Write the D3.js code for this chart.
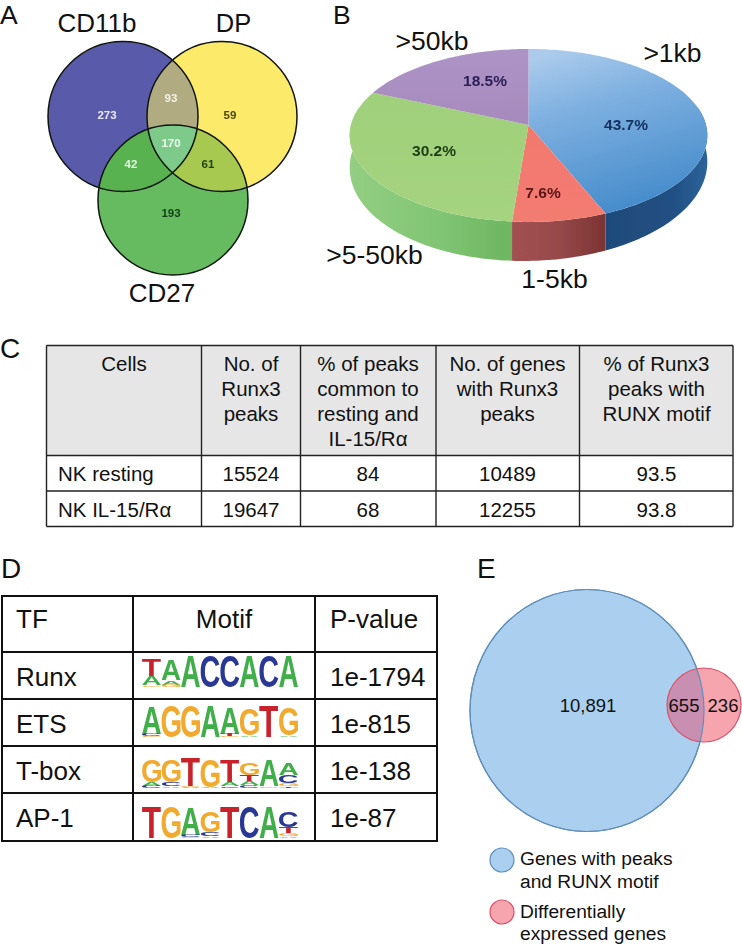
<!DOCTYPE html>
<html><head><meta charset="utf-8">
<script src="https://cdn.jsdelivr.net/npm/d3@7/dist/d3.min.js"></script>
<style>html,body{margin:0;background:#fff}svg{display:block}text{font-family:"Liberation Sans",Arial,sans-serif}</style>
</head><body><svg id="c" width="742" height="945"></svg>
<script>
// ---------- data ----------
const panelLetters = ["A","B","C","D","E"];
const vennSets = ["CD11b","DP","CD27"];
const vennRegionNames = ["CD11b only","CD11b+DP","DP only","all","CD11b+CD27","DP+CD27","CD27 only"];
const vennRegionValues = [273,93,59,170,42,61,193];
const pieLabels = [">1kb","1-5kb",">5-50kb",">50kb"];
const pieValues = [43.7,7.6,30.2,18.5];
const tableCHeader = [["Cells"],["No. of","Runx3","peaks"],["% of peaks","common to","resting and","IL-15/Rα"],["No. of genes","with Runx3","peaks"],["% of Runx3","peaks with","RUNX motif"]];
const tableCRow1 = ["NK resting","15524","84","10489","93.5"];
const tableCRow2 = ["NK IL-15/Rα","19647","68","12255","93.8"];
const tableDHeader = ["TF","Motif","P-value"];
const tfNames = ["Runx","ETS","T-box","AP-1"];
const pValues = ["1e-1794","1e-815","1e-138","1e-87"];
const logoRunx = [[["T",.56],["A",.3],["G",.05]],[["A",.68],["A",.14],["G",.08]],[["A",1]],[["C",1]],[["C",1]],[["A",1]],[["C",1]],[["A",1]]];
const logoEts = [[["A",.86],["C",.06],["G",.03]],[["G",1]],[["G",1]],[["A",1]],[["A",.84],["T",.08],["G",.03]],[["G",.86],["A",.04]],[["T",1]],[["G",.88],["A",.04]]];
const logoTbox = [[["G",.72],["A",.1],["C",.08]],[["G",.7],["C",.12],["A",.05]],[["T",.9],["G",.03],["A",.03]],[["G",.9],["A",.03]],[["T",.72],["A",.14],["C",.05]],[["G",.36],["T",.2],["A",.12],["C",.1]],[["A",.85],["G",.05]],[["A",.38],["C",.26],["G",.1],["T",.05]]];
const logoAp1 = [[["T",1]],[["G",1]],[["A",.86],["C",.08],["G",.03]],[["G",.68],["C",.14],["A",.05]],[["T",1]],[["C",1]],[["A",1]],[["C",.52],["T",.2],["G",.1],["A",.05]]];
const logos = [logoRunx,logoEts,logoTbox,logoAp1];
const overlapLabels = ["10,891","655","236"];
const legendE = [["Genes with peaks","and RUNX motif"],["Differentially","expressed genes"]];

// ---------- layout & style ----------
const svg = d3.select("#c");
const defs = svg.append("defs");
defs.append("filter").attr("id","soft").append("feGaussianBlur").attr("stdDeviation",.45);
defs.append("filter").attr("id","soft2").append("feGaussianBlur").attr("stdDeviation",.3);

function txt(g,s,x,y,size,o={}){
  return g.append("text").attr("x",x).attr("y",y).attr("font-size",size)
    .attr("text-anchor",o.anchor||"start").attr("font-weight",o.weight||"normal")
    .attr("fill",o.fill||"#111").text(s);
}
const letterPos = [[0,24,26.5],[333,24,26.5],[0,358,28],[1,578,28],[477,578,28]];
panelLetters.forEach((l,i)=>txt(svg,l,letterPos[i][0],letterPos[i][1],letterPos[i][2]));

// ---------- A: three-set Venn ----------
const gA = svg.append("g");
const gAm = gA.append("g").attr("filter","url(#soft)");
const circles = [{cx:123,cy:116.5,r:75,fill:"#5a5aab"},{cx:222,cy:116.5,r:75,fill:"#fcea6b"},{cx:173,cy:200,r:75,fill:"#66ba5e"}];
circles.forEach((c,i)=>{
  defs.append("clipPath").attr("id","vc"+i).append("circle").attr("cx",c.cx).attr("cy",c.cy).attr("r",c.r);
  defs.append("clipPath").attr("id","vcc"+i).attr("clip-path",`url(#vc${(i+1)%3})`).append("circle").attr("cx",c.cx).attr("cy",c.cy).attr("r",c.r);
});
gAm.selectAll("circle.base").data(circles).join("circle").attr("class","base")
  .attr("cx",d=>d.cx).attr("cy",d=>d.cy).attr("r",d=>d.r).attr("fill",d=>d.fill);
const c0=circles[0],c1=circles[1],c2=circles[2];
function over(clip,c,fill){gAm.append("g").attr("clip-path",`url(#${clip})`).append("circle").attr("cx",c.cx).attr("cy",c.cy).attr("r",c.r).attr("fill",fill);}
over("vc1",c0,"#b1ab82");
over("vc0",c2,"#58b24f");
over("vc1",c2,"#a8c94f");
over("vcc0",c2,"#7dca8a");
gAm.selectAll("circle.edge").data(circles).join("circle").attr("class","edge")
  .attr("cx",d=>d.cx).attr("cy",d=>d.cy).attr("r",d=>d.r).attr("fill","none").attr("stroke","#10150f").attr("stroke-width",1.5);
const vennSetPos = [[97,32,26],[233.5,32,25.5],[162,302,26]];
vennSets.forEach((s,i)=>txt(gA,s,vennSetPos[i][0],vennSetPos[i][1],vennSetPos[i][2],{anchor:"middle"}));
const vennNumPos = [[107,119],[171,102],[230,119],[171,147],[131,168],[208,168],[171,217]];
const vennNumCol = ["#e8e8f8","#f4f2e4","#4b4510","#eefaf0","#e6f6e4","#25400f","#123f18"];
const gAn = gA.append("g").attr("filter","url(#soft2)");
vennRegionValues.forEach((v,i)=>txt(gAn,v,vennNumPos[i][0],vennNumPos[i][1],11.5,{anchor:"middle",weight:"bold",fill:vennNumCol[i]}));

// ---------- B: perspective 3-D pie ----------
const pieCx=528.5,pieCy=125,pieR=177.5,pieS=85.2,pieK=0.121;
const pieArcs = d3.pie().sort(null)(pieValues);
const topPt = t=>{const u=Math.sin(t),v=-Math.cos(t),w=1-pieK*v;return [pieCx+pieR*u/w,pieCy+pieS*v/w];};
const botPt = t=>{const u=Math.sin(t),v=-Math.cos(t),p=topPt(t);return [p[0],p[1]+28+11*v-3*u];};
const sampled=(a,b)=>{const n=Math.max(2,Math.ceil((b-a)/0.02));return d3.range(n+1).map(i=>a+(b-a)*i/n);};
const pieLine=d3.line();
function grad(id,x1,y1,x2,y2,stops){
  const g=defs.append("linearGradient").attr("id",id).attr("gradientUnits","userSpaceOnUse")
    .attr("x1",x1).attr("y1",y1).attr("x2",x2).attr("y2",y2);
  stops.forEach(s=>g.append("stop").attr("offset",s[0]).attr("stop-color",s[1]));
}
grad("pt0",560,50,610,215,[[0,"#abcbec"],[.35,"#7eb0e0"],[1,"#468ccb"]]);
grad("pt1",0,130,0,222,[[0,"#f2796e"],[1,"#f37b70"]]);
grad("pt2",0,90,0,222,[[0,"#a0d07a"],[1,"#a5d380"]]);
grad("pt3",0,50,0,125,[[0,"#ad94c6"],[1,"#a78abd"]]);
grad("ps0",606,0,705,0,[[0,"#1f4a7a"],[.7,"#225084"],[1,"#2b6298"]]);
grad("ps1",502,0,606,0,[[0,"#a55354"],[.55,"#96494a"],[1,"#7b3332"]]);
grad("ps2",350,0,502,0,[[0,"#93ce82"],[.6,"#80c573"],[1,"#6fb763"]]);
grad("ps3",340,0,380,0,[[0,"#93ce82"],[1,"#93ce82"]]);
const gB=svg.append("g");
const gBm=gB.append("g").attr("filter","url(#soft)");
const sideLo=78*Math.PI/180, sideHi=282*Math.PI/180;
gBm.selectAll("path.side").data(pieArcs).join("path").attr("class","side")
  .attr("fill",(d,i)=>`url(#ps${i})`)
  .attr("d",d=>{
    const a=Math.max(d.startAngle,sideLo),b=Math.min(d.endAngle,sideHi);
    if(b<=a) return null;
    const ts=sampled(a,b);
    return pieLine(ts.map(topPt).concat(ts.slice().reverse().map(botPt)))+"Z";
  });
gBm.selectAll("path.top").data(pieArcs).join("path").attr("class","top")
  .attr("fill",(d,i)=>`url(#pt${i})`)
  .attr("d",d=>pieLine([[pieCx,pieCy]].concat(sampled(d.startAngle,d.endAngle).map(topPt)))+"Z");
const pieLabelPos=[[672.5,62],[554.5,288],[374.5,264],[432,50]];
pieLabels.forEach((s,i)=>txt(gB,s,pieLabelPos[i][0],pieLabelPos[i][1],26.5,{anchor:"middle"}));
const piePctPos=[[626,130],[543,198],[434,156],[485,86]];
const piePctCol=["#14305f","#581517","#1e3d12","#2a1f55"];
const gBn=gB.append("g").attr("filter","url(#soft2)");
pieValues.forEach((v,i)=>txt(gBn,v.toFixed(1)+"%",piePctPos[i][0],piePctPos[i][1],15.5,{anchor:"middle",weight:"bold",fill:piePctCol[i]}));

// ---------- C: table ----------
const gC=svg.append("g");
const cX=[46.5,201.5,300.5,436,579.5,733], cY=[345.5,455.5,491,526.5];
gC.append("rect").attr("x",cX[0]).attr("y",cY[0]).attr("width",cX[5]-cX[0]).attr("height",cY[1]-cY[0]).attr("fill","#e6e6e6");
cX.forEach(x=>gC.append("line").attr("x1",x).attr("x2",x).attr("y1",cY[0]).attr("y2",cY[3]).attr("stroke","#222").attr("stroke-width",1.4));
cY.forEach(y=>gC.append("line").attr("x1",cX[0]).attr("x2",cX[5]).attr("y1",y).attr("y2",y).attr("stroke","#222").attr("stroke-width",1.4));
const cCent=[124,251,368,507.5,656.5], cHeadY=[371,395.5,420.5,445.5];
tableCHeader.forEach((lines,i)=>lines.forEach((s,j)=>txt(gC,s,cCent[i],cHeadY[j],20.5,{anchor:"middle"})));
[tableCRow1,tableCRow2].forEach((row,r)=>row.forEach((s,i)=>{
  const y=[481,517][r];
  if(i===0) txt(gC,s,58,y,20.5); else txt(gC,s,cCent[i],y,20.5,{anchor:"middle"});
}));

// ---------- D: motif table ----------
const gD=svg.append("g");
const dX=[2,133,315,437], dY=[596,652,699,746,793,841];
dX.forEach(x=>gD.append("line").attr("x1",x).attr("x2",x).attr("y1",dY[0]-1).attr("y2",dY[5]+1).attr("stroke","#111").attr("stroke-width",2));
dY.forEach(y=>gD.append("line").attr("x1",dX[0]-1).attr("x2",dX[3]+1).attr("y1",y).attr("y2",y).attr("stroke","#111").attr("stroke-width",2));
txt(gD,tableDHeader[0],16,628,26);
txt(gD,tableDHeader[1],224,628,26,{anchor:"middle"});
txt(gD,tableDHeader[2],330,628,26);
const dRowY=[686,733,780,827];
tfNames.forEach((s,i)=>{txt(gD,s,16,dRowY[i],26);txt(gD,pValues[i],330,dRowY[i],26);});
// sequence logos
const baseColor={A:"#3fae49",C:"#2a3795",G:"#f1a92e",T:"#c8202b"};
const ctx=document.createElement("canvas").getContext("2d");
ctx.font='bold 100px "Liberation Sans"';
const ink={};
Object.keys(baseColor).forEach(b=>{const m=ctx.measureText(b);ink[b]={l:m.actualBoundingBoxLeft,r:m.actualBoundingBoxRight,a:m.actualBoundingBoxAscent,d:m.actualBoundingBoxDescent};});
const logoX=d3.scaleBand().domain(d3.range(8)).range([142,298]).paddingInner(0.03);
const logoBase=[687,737,788,838], logoH=31;
const gL=gD.append("g").attr("filter","url(#soft2)");
logos.forEach((logo,r)=>{
  const y=d3.scaleLinear().domain([0,1]).range([logoBase[r],logoBase[r]-logoH]);
  logo.forEach((stack,p)=>{
    let cum=d3.sum(stack,d=>d[1]);
    stack.forEach(([b,h])=>{
      const top=y(cum),bot=y(cum-h);cum-=h;
      const m=ink[b],w=logoX.bandwidth();
      const sx=w/(m.l+m.r),sy=(bot-top)/(m.a+m.d);
      gL.append("text").attr("font-size",100).attr("font-weight","bold").attr("fill",baseColor[b])
        .attr("transform",`translate(${logoX(p)+m.l*sx},${bot-m.d*sy}) scale(${sx},${sy})`).text(b);
    });
  });
});

// ---------- E: two-set Venn ----------
const gE=svg.append("g");
const big={cx:587,cy:710.5,rx:117,ry:121}, small={cx:704,cy:705,rx:37,ry:37};
const ell=(g,e,fill,stroke,sw)=>g.append("ellipse").attr("cx",e.cx).attr("cy",e.cy).attr("rx",e.rx).attr("ry",e.ry).attr("fill",fill).attr("stroke",stroke).attr("stroke-width",sw);
defs.append("clipPath").attr("id","eb").append("ellipse").attr("cx",big.cx).attr("cy",big.cy).attr("rx",big.rx).attr("ry",big.ry);
ell(gE,big,"#abd0ef","#5f8fba",1.2);
ell(gE,small,"#f6a5af","none",0);
ell(gE.append("g").attr("clip-path","url(#eb)"),small,"#c88fb0","none",0);
ell(gE,big,"none","#5f8fba",1.2);
ell(gE,small,"none","#dc5169",1.2);
const eNumX=[588,684,723];
overlapLabels.forEach((s,i)=>txt(gE,s,eNumX[i],712,18.5,{anchor:"middle"}));
ell(gE,{cx:502,cy:860,rx:12,ry:12},"#abd0ef","#5f8fba",1.2);
ell(gE,{cx:502,cy:912,rx:12,ry:12},"#f6a5af","#dc5169",1.2);
const legY=[[865,888],[918,940]];
legendE.forEach((ls,i)=>ls.forEach((s,j)=>txt(gE,s,520,legY[i][j],19.2)));
</script></body></html>
